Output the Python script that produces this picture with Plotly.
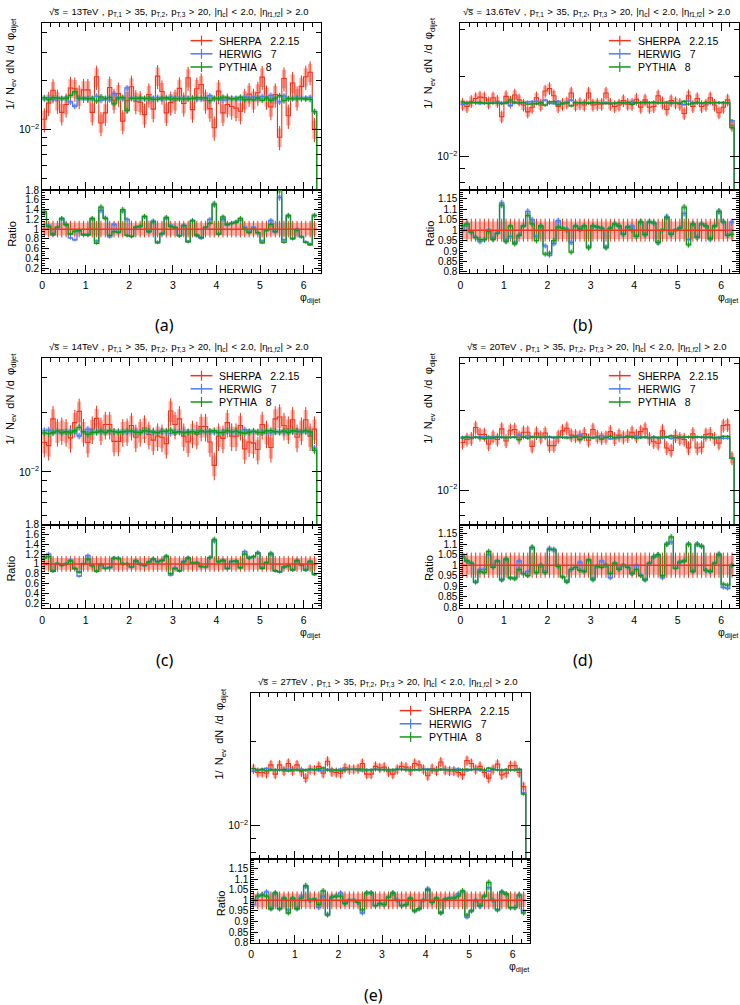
import plotly.graph_objects as go

W, H = 740, 1005
NBIN = 63
BW = 0.1
EDGES = [round(BW * i, 2) for i in range(NBIN + 1)]
CENTERS = [round(BW * (i + 0.5), 3) for i in range(NBIN)]
UNIT = 1e-2          # main-plot values below are given in units of 1e-2
DROP = 1e-4          # histogram falls to zero after the last bin

ENERGIES = ["13", "13.6", "14", "20", "27"]
LABELS = ["(a)", "(b)", "(c)", "(d)", "(e)"]
SERIES_NAMES = ["SHERPA\u00a0\u00a0\u00a02.2.15", "HERWIG\u00a0\u00a0\u00a07", "PYTHIA\u00a0\u00a0\u00a08"]

# ---------------- panel (a) 13 TeV ----------------
A_SHERPA = [1.16, 1.46, 1.75, 1.51, 1.28, 1.43, 1.81, 1.79, 1.61, 1.76,
            1.76, 1.28, 2.12, 1.10, 1.27, 1.82, 1.52, 1.67, 1.13, 1.51,
            1.84, 1.50, 1.48, 1.24, 1.65, 1.34, 2.14, 1.72, 1.27, 1.47,
            1.51, 1.80, 1.45, 2.09, 1.33, 1.79, 1.90, 1.51, 1.35, 1.03,
            1.73, 1.27, 1.43, 1.39, 1.36, 1.30, 1.53, 1.66, 1.53, 1.69,
            2.11, 1.60, 1.38, 1.65, 0.90, 2.07, 1.22, 1.94, 1.58, 1.85,
            2.12, 2.26, 1.01]
A_HERWIG_R = [1.33, 1.08, 0.88, 1.03, 1.21, 1.10, 0.82, 0.78, 0.97, 0.88,
              0.89, 1.21, 0.76, 1.38, 1.23, 0.84, 1.10, 0.93, 1.37, 1.20,
              0.85, 1.04, 1.05, 1.25, 0.94, 1.17, 0.74, 0.90, 1.22, 1.08,
              1.04, 0.87, 1.08, 0.75, 1.18, 0.86, 0.81, 1.03, 1.20, 1.50,
              0.90, 1.20, 1.08, 1.12, 1.15, 1.18, 1.04, 0.95, 1.04, 0.92,
              0.76, 0.97, 1.18, 0.94, 1.65, 0.78, 1.27, 0.81, 1.00, 0.85,
              0.74, 0.70, 1.28]
A_PYTHIA_R = [1.36, 1.05, 0.90, 1.04, 1.22, 1.09, 0.90, 0.96, 0.97, 0.89,
              0.88, 1.22, 0.71, 1.45, 1.22, 0.87, 0.95, 0.94, 1.40, 0.87,
              0.85, 1.04, 1.06, 1.26, 0.95, 1.15, 0.72, 0.91, 1.24, 1.05,
              1.03, 0.86, 1.07, 0.74, 1.17, 0.88, 0.83, 1.04, 1.12, 1.52,
              0.90, 1.25, 1.10, 1.12, 1.14, 1.22, 1.00, 0.93, 1.00, 0.93,
              0.72, 0.98, 1.10, 0.95, 1.80, 0.73, 1.28, 0.80, 0.98, 0.84,
              0.73, 0.68, 1.28]

# ---------------- panel (b) 13.6 TeV ----------------
B_SHERPA = [1.57, 1.54, 1.61, 1.65, 1.67, 1.66, 1.59, 1.66, 1.61, 1.41,
            1.68, 1.60, 1.70, 1.63, 1.56, 1.47, 1.53, 1.66, 1.56, 1.76,
            1.80, 1.69, 1.54, 1.57, 1.59, 1.73, 1.56, 1.58, 1.56, 1.73,
            1.56, 1.57, 1.57, 1.73, 1.57, 1.54, 1.56, 1.62, 1.57, 1.57,
            1.64, 1.53, 1.63, 1.53, 1.54, 1.69, 1.59, 1.50, 1.62, 1.59,
            1.57, 1.45, 1.69, 1.54, 1.65, 1.54, 1.56, 1.66, 1.56, 1.46,
            1.53, 1.63, 1.31]
B_HERWIG_R = [1.00, 1.03, 0.99, 0.965, 0.945, 0.955, 1.00, 0.96, 0.99, 1.13,
              0.95, 0.97, 0.94, 0.975, 1.02, 1.09, 1.05, 0.97, 1.02, 0.925,
              0.88, 0.935, 1.045, 1.01, 1.005, 0.94, 1.02, 1.005, 1.02, 0.92,
              1.02, 1.015, 1.01, 0.92, 1.01, 1.03, 1.02, 0.98, 1.015, 1.02,
              0.97, 1.04, 0.975, 1.04, 1.035, 0.94, 1.00, 1.065, 0.98, 1.00,
              1.01, 1.08, 0.955, 1.03, 0.965, 1.03, 1.02, 0.955, 1.02, 1.09,
              1.04, 0.975, 1.04]
B_PYTHIA_R = [1.02, 1.03, 0.99, 0.965, 0.955, 0.955, 0.995, 0.955, 0.985, 1.12,
              0.945, 1.02, 0.935, 0.975, 1.02, 1.07, 1.03, 0.95, 1.02, 0.885,
              0.89, 0.95, 1.015, 1.01, 1.00, 0.895, 1.02, 1.005, 1.02, 0.915,
              1.02, 1.015, 1.01, 0.915, 1.01, 1.03, 1.02, 0.98, 1.015, 1.00,
              0.97, 1.04, 0.98, 1.04, 1.035, 0.94, 1.00, 1.06, 0.98, 1.00,
              1.01, 1.11, 0.93, 1.03, 0.965, 1.03, 1.02, 0.96, 1.02, 1.09,
              1.04, 0.975, 0.98]

# ---------------- panel (c) 14 TeV ----------------
C_SHERPA = [1.41, 1.36, 1.86, 1.60, 1.63, 1.60, 1.49, 1.78, 2.03, 1.60,
            1.41, 1.65, 1.87, 1.63, 1.74, 1.74, 1.43, 1.43, 1.60, 1.61,
            1.72, 1.50, 1.60, 1.67, 1.55, 1.45, 1.52, 1.50, 1.39, 2.04,
            1.74, 1.86, 1.52, 1.42, 1.57, 1.55, 1.70, 1.70, 1.42, 1.08,
            1.52, 1.48, 1.78, 1.52, 1.52, 1.72, 1.31, 1.42, 1.40, 1.30,
            1.74, 1.57, 1.33, 1.86, 1.90, 1.72, 1.65, 1.84, 1.50, 1.63,
            1.84, 1.52, 1.65]
C_HERWIG_R = [1.15, 1.20, 0.86, 1.00, 0.98, 1.00, 1.08, 0.90, 0.75, 1.00,
              1.17, 0.97, 0.86, 0.98, 0.92, 0.92, 1.12, 1.12, 1.00, 0.99,
              0.93, 1.07, 1.00, 0.96, 1.03, 1.10, 1.05, 1.07, 1.15, 0.77,
              0.92, 0.86, 1.05, 1.13, 1.02, 1.03, 0.94, 0.94, 1.13, 1.47,
              1.05, 1.08, 0.90, 1.05, 1.05, 0.93, 1.25, 1.13, 1.14, 1.23,
              0.92, 1.02, 1.19, 0.86, 0.84, 0.93, 0.97, 0.87, 1.07, 0.98,
              0.87, 1.05, 0.80]
C_PYTHIA_R = [1.12, 1.15, 0.85, 1.01, 0.97, 1.00, 1.06, 0.91, 0.83, 1.00,
              1.10, 0.96, 0.85, 0.99, 0.91, 0.93, 1.12, 1.11, 1.00, 1.00,
              0.94, 1.06, 0.99, 0.97, 1.04, 1.10, 1.04, 1.07, 1.16, 0.80,
              0.91, 0.86, 1.04, 1.12, 1.02, 1.02, 0.95, 0.94, 1.13, 1.50,
              1.04, 1.07, 0.91, 1.05, 1.06, 0.92, 1.20, 1.12, 1.15, 1.22,
              0.91, 1.03, 1.22, 0.86, 0.84, 0.94, 0.96, 0.88, 1.07, 0.98,
              0.88, 1.05, 0.78]

# ---------------- panel (d) 20 TeV ----------------
D_SHERPA = [1.51, 1.55, 1.56, 1.72, 1.62, 1.62, 1.49, 1.59, 1.55, 1.70,
            1.53, 1.68, 1.69, 1.58, 1.65, 1.65, 1.46, 1.64, 1.58, 1.64,
            1.47, 1.47, 1.59, 1.67, 1.71, 1.61, 1.60, 1.59, 1.63, 1.54,
            1.69, 1.59, 1.57, 1.58, 1.66, 1.56, 1.61, 1.58, 1.60, 1.65,
            1.60, 1.66, 1.70, 1.56, 1.52, 1.50, 1.67, 1.44, 1.41, 1.60,
            1.56, 1.55, 1.44, 1.63, 1.44, 1.45, 1.62, 1.63, 1.56, 1.50,
            1.75, 1.76, 1.32]
D_HERWIG_R = [1.05, 1.02, 1.01, 0.92, 0.98, 0.98, 1.05, 1.00, 1.02, 0.93,
              1.03, 0.94, 0.94, 1.02, 0.96, 0.97, 1.085, 0.965, 1.00, 0.965,
              1.08, 1.07, 0.995, 0.945, 0.925, 0.98, 0.99, 1.015, 0.97, 1.025,
              0.935, 0.995, 1.02, 1.00, 0.94, 1.01, 0.98, 1.00, 0.99, 0.96,
              1.00, 0.955, 0.93, 1.01, 1.04, 1.05, 0.94, 1.10, 1.11, 0.985,
              1.015, 1.02, 1.10, 0.97, 1.10, 1.09, 0.975, 0.97, 1.01, 1.055,
              0.895, 0.89, 1.00]
D_PYTHIA_R = [1.04, 1.02, 1.01, 0.92, 0.97, 0.965, 1.065, 0.99, 1.02, 0.93,
              1.03, 0.94, 0.935, 0.98, 0.96, 0.95, 1.085, 0.965, 1.00, 0.965,
              1.075, 1.075, 0.995, 0.945, 0.92, 0.98, 0.99, 0.975, 0.97, 1.025,
              0.93, 0.995, 0.99, 1.00, 0.96, 1.01, 0.98, 1.00, 0.99, 0.96,
              0.98, 0.95, 0.93, 1.01, 1.04, 1.05, 0.95, 1.10, 1.135, 0.985,
              1.015, 1.02, 1.10, 0.97, 1.10, 1.09, 0.975, 0.97, 1.01, 1.05,
              0.91, 0.905, 1.00]

# ---------------- panel (e) 27 TeV ----------------
E_SHERPA = [1.60, 1.55, 1.55, 1.54, 1.65, 1.53, 1.65, 1.57, 1.67, 1.57,
            1.65, 1.56, 1.48, 1.59, 1.58, 1.63, 1.54, 1.70, 1.56, 1.55,
            1.54, 1.61, 1.59, 1.59, 1.60, 1.67, 1.53, 1.53, 1.63, 1.61,
            1.62, 1.56, 1.53, 1.59, 1.63, 1.62, 1.57, 1.67, 1.65, 1.59,
            1.51, 1.60, 1.57, 1.69, 1.58, 1.57, 1.57, 1.55, 1.52, 1.71,
            1.67, 1.59, 1.63, 1.55, 1.48, 1.59, 1.66, 1.52, 1.54, 1.64,
            1.64, 1.55, 1.38]
E_HERWIG_R = [0.98, 1.02, 1.025, 1.04, 0.96, 1.035, 0.96, 1.01, 0.955, 1.01,
              0.96, 1.02, 1.065, 1.00, 1.005, 0.965, 1.02, 0.935, 1.015, 1.02,
              1.035, 0.985, 1.00, 1.00, 0.99, 0.94, 1.035, 1.035, 0.975, 0.985,
              0.98, 1.015, 1.035, 1.00, 0.975, 0.98, 1.01, 0.95, 0.96, 1.00,
              1.055, 0.99, 1.01, 0.94, 1.005, 1.01, 1.01, 1.03, 1.04, 0.92,
              0.95, 1.00, 0.97, 1.02, 1.06, 1.00, 0.955, 1.04, 1.03, 0.965,
              0.965, 1.025, 0.95]
E_PYTHIA_R = [1.00, 1.02, 1.025, 1.02, 0.96, 1.035, 0.96, 1.01, 0.94, 1.01,
              0.96, 1.01, 1.07, 1.00, 1.005, 0.98, 1.045, 0.93, 1.015, 1.02,
              1.02, 0.985, 1.00, 1.00, 0.99, 0.955, 1.035, 1.035, 0.975, 0.985,
              0.98, 1.015, 1.035, 1.00, 0.975, 0.98, 1.01, 0.95, 0.96, 1.00,
              1.05, 0.99, 1.01, 0.94, 1.005, 1.01, 1.01, 1.02, 1.045, 0.93,
              0.95, 1.00, 0.975, 1.02, 1.085, 1.00, 0.955, 1.04, 1.03, 0.965,
              0.965, 1.025, 0.94]

SHERPA = [A_SHERPA, B_SHERPA, C_SHERPA, D_SHERPA, E_SHERPA]
HERWIG_R = [A_HERWIG_R, B_HERWIG_R, C_HERWIG_R, D_HERWIG_R, E_HERWIG_R]
PYTHIA_R = [A_PYTHIA_R, B_PYTHIA_R, C_PYTHIA_R, D_PYTHIA_R, E_PYTHIA_R]
# relative uncertainties: SHERPA band, SHERPA bar, HERWIG/PYTHIA
SHERPA_BAND = [0.13, 0.042, 0.12, 0.045, 0.032]
SHERPA_BAR = [0.17, 0.055, 0.16, 0.06, 0.042]
MC_ERR = [0.03, 0.01, 0.028, 0.009, 0.009]

# ---------------- geometry / style (pixels) ----------------
GEOM = [  # left, right, top, mid, bottom
    (39.3, 319.3, 18.3, 187.0, 270.7),
    (459.3, 738.5, 18.3, 187.3, 270.7),
    (39.3, 319.3, 356.7, 525.0, 609.0),
    (459.3, 738.5, 356.7, 525.0, 609.0),
    (249.3, 529.3, 695.0, 862.7, 947.0),
]
MAIN_YRANGE = [(-2.372, -1.343), (-2.127, -1.500), (-2.268, -1.4225),
               (-2.131, -1.503), (-2.119, -1.526)]
RATIO_YRANGE = [(0.1, 1.8), (0.795, 1.19), (0.1, 1.8), (0.797, 1.192), (0.8, 1.195)]
WIDE_TICKS = ([0.2, 0.4, 0.6, 0.8, 1.0, 1.2, 1.4, 1.6, 1.8],
              ["0.2", "0.4", "0.6", "0.8", "1", "1.2", "1.4", "1.6", "1.8"], 0.05)
NARROW_TICKS = ([0.8, 0.85, 0.9, 0.95, 1.0, 1.05, 1.1, 1.15],
                ["0.8", "0.85", "0.9", "0.95", "1", "1.05", "1.1", "1.15"], 0.01)
RATIO_TICKS = [WIDE_TICKS, NARROW_TICKS, WIDE_TICKS, NARROW_TICKS, NARROW_TICKS]

RED, RED_F = "#f2341f", "rgba(246,120,100,0.55)"
BLUE, BLUE_F = "#4d7cf6", "rgba(120,155,245,0.55)"
GREEN, GREEN_F = "#14961e", "rgba(80,180,80,0.5)"
FONT = "Liberation Sans"
SP = "\u00a0\u2009"
TSP = "\u00a0\u200a"


def xp(px):
    return px / W


def yp(py):
    return 1 - py / H


def boxes(vals, half, xa, ya, fill):
    xs, ys = [], []
    for i, v in enumerate(vals):
        x0, x1 = EDGES[i], EDGES[i + 1]
        lo, hi = v - half[i], v + half[i]
        xs += [x0, x1, x1, x0, x0, None]
        ys += [lo, lo, hi, hi, lo, None]
    return go.Scatter(x=xs, y=ys, mode="lines", fill="toself", fillcolor=fill,
                      line=dict(width=0), hoverinfo="skip", showlegend=False,
                      xaxis=xa, yaxis=ya)


def vbars(vals, half, xa, ya, color):
    xs, ys = [], []
    for i, v in enumerate(vals):
        xs += [CENTERS[i], CENTERS[i], None]
        ys += [v - half[i], v + half[i], None]
    return go.Scatter(x=xs, y=ys, mode="lines", line=dict(color=color, width=1),
                      hoverinfo="skip", showlegend=False, xaxis=xa, yaxis=ya)


def step(vals, xa, ya, color, drop=None, width=1.3):
    xs = EDGES[:-1] + [EDGES[-1]]
    ys = list(vals) + [vals[-1]]
    if drop is not None:
        xs = xs + [EDGES[-1]]
        ys = ys + [drop]
    return go.Scatter(x=xs, y=ys, mode="lines", line=dict(color=color, width=width, shape="hv"),
                      hoverinfo="skip", showlegend=False, xaxis=xa, yaxis=ya)


fig = go.Figure()
layout = dict(width=W, height=H, autosize=False, margin=dict(l=0, r=0, t=0, b=0),
              paper_bgcolor="white", plot_bgcolor="white", showlegend=False,
              font=dict(family=FONT, color="black", size=10))
annotations, shapes = [], []

axis_common = dict(showline=True, linecolor="black", linewidth=1, mirror="allticks",
                   ticks="inside", tickcolor="black", showgrid=False, zeroline=False,
                   tickfont=dict(family=FONT, size=10, color="black"))

for k in range(5):
    L, R, T, M, B = GEOM[k]
    nm, nr = 2 * k + 1, 2 * k + 2
    xm, ym = ("x" if nm == 1 else f"x{nm}"), ("y" if nm == 1 else f"y{nm}")
    xr, yr = f"x{nr}", f"y{nr}"

    S = [v * UNIT for v in SHERPA[k]]
    HW = [r * v for r, v in zip(HERWIG_R[k], S)]
    PY = [r * v for r, v in zip(PYTHIA_R[k], S)]

    # ---- main plot ----
    for vals, col, fill, rb, rl, lw in [(S, RED, RED_F, SHERPA_BAND[k], SHERPA_BAR[k], 1.1),
                                        (HW, BLUE, BLUE_F, MC_ERR[k], MC_ERR[k] * 1.4, 1.3),
                                        (PY, GREEN, GREEN_F, MC_ERR[k], MC_ERR[k] * 1.4, 1.3)]:
        fig.add_trace(boxes(vals, [v * rb for v in vals], xm, ym, fill))
        fig.add_trace(step(vals, xm, ym, col, drop=DROP, width=lw))
        fig.add_trace(vbars(vals, [v * rl for v in vals], xm, ym, col))

    # ---- ratio plot ----
    ones = [1.0] * NBIN
    fig.add_trace(boxes(ones, [SHERPA_BAND[k]] * NBIN, xr, yr, RED_F))
    fig.add_trace(vbars(ones, [SHERPA_BAR[k]] * NBIN, xr, yr, RED))
    for rat, col, fill in [(HERWIG_R[k], BLUE, BLUE_F), (PYTHIA_R[k], GREEN, GREEN_F)]:
        fig.add_trace(boxes(rat, [r * MC_ERR[k] for r in rat], xr, yr, fill))
        fig.add_trace(step(rat, xr, yr, col))
        fig.add_trace(vbars(rat, [r * MC_ERR[k] * 1.4 for r in rat], xr, yr, col))
    fig.add_trace(step(ones, xr, yr, RED, width=1.5))

    xdom = [xp(L), xp(R)]
    layout["xaxis" if nm == 1 else f"xaxis{nm}"] = dict(
        axis_common, domain=xdom, anchor=ym, range=[0, 6.4], tickmode="linear", tick0=0, dtick=1,
        ticklen=8, showticklabels=False,
        minor=dict(ticks="inside", dtick=0.2, tick0=0, ticklen=4, tickcolor="black"))
    layout["yaxis" if nm == 1 else f"yaxis{nm}"] = dict(
        axis_common, domain=[yp(M), yp(T)], anchor=xm, type="log", range=list(MAIN_YRANGE[k]),
        tickmode="array", tickvals=[0.01], ticktext=["10<sup>\u22122</sup>"], ticklen=9,
        tickfont=dict(family=FONT, size=10.5, color="black"),
        minor=dict(ticks="inside", tickmode="array", ticklen=5, tickcolor="black",
                   tickvals=[0.004, 0.005, 0.006, 0.007, 0.008, 0.009, 0.02, 0.03, 0.04]))
    layout[f"xaxis{nr}"] = dict(
        axis_common, domain=xdom, anchor=yr, range=[0, 6.4], tickmode="linear", tick0=0, dtick=1,
        ticklen=8, ticklabelstandoff=2, tickfont=dict(family=FONT, size=10.5, color="black"),
        minor=dict(ticks="inside", dtick=0.2, tick0=0, ticklen=4, tickcolor="black"))
    tv, tt, mdt = RATIO_TICKS[k]
    layout[f"yaxis{nr}"] = dict(
        axis_common, domain=[yp(B), yp(M)], anchor=xr, range=list(RATIO_YRANGE[k]),
        tickmode="array", tickvals=tv, ticktext=tt, ticklen=7,
        minor=dict(ticks="inside", dtick=mdt, tick0=0, ticklen=3, tickcolor="black"))

    # ---- texts ----
    annotations.append(dict(
        x=xp(L + 137), y=yp(T - 11), xref="paper", yref="paper", showarrow=False,
        xanchor="center", yanchor="middle", font=dict(size=9.5, family=FONT),
        text=(f"\u221as\u0305{TSP}={TSP}{ENERGIES[k]}TeV{TSP},{TSP}p<sub>T,1</sub>{TSP}>{TSP}35,{TSP}"
              f"p<sub>T,2</sub>,{TSP}p<sub>T,3</sub>{TSP}>{TSP}20,{TSP}|\u03b7<sub>c</sub>|{TSP}<{TSP}2.0,"
              f"{TSP}|\u03b7<sub>f1,f2</sub>|{TSP}>{TSP}2.0")))
    annotations.append(dict(
        x=xp(L - 31), y=yp(T - 8), xref="paper", yref="paper", showarrow=False, textangle=-90,
        xanchor="center", yanchor="top", font=dict(size=11, family=FONT),
        text=f"1/{SP}N<sub>ev</sub>{SP}dN{SP}/d{SP}\u03c6<sub>dijet</sub>"))
    annotations.append(dict(
        x=xp(L - 31), y=yp((M + B) / 2 + 2), xref="paper", yref="paper", showarrow=False,
        textangle=-90, xanchor="center", yanchor="middle", font=dict(size=11, family=FONT),
        text="Ratio"))
    annotations.append(dict(
        x=xp(R + 1), y=yp(B + 25), xref="paper", yref="paper", showarrow=False,
        xanchor="right", yanchor="middle", font=dict(size=10.5, family=FONT),
        text="\u03c6<sub>dijet</sub>"))
    annotations.append(dict(
        x=xp(L + 123), y=yp(B + 53), xref="paper", yref="paper", showarrow=False,
        xanchor="center", yanchor="middle", font=dict(size=16, family="Noto Sans"),
        text=LABELS[k]))
    # legend
    for j, (name, col) in enumerate(zip(SERIES_NAMES, [RED, BLUE, GREEN])):
        yrow = T + 17.7 + 13.3 * j
        shapes.append(dict(type="line", xref="paper", yref="paper", x0=xp(L + 149), x1=xp(L + 171),
                           y0=yp(yrow), y1=yp(yrow), line=dict(color=col, width=1.5)))
        shapes.append(dict(type="line", xref="paper", yref="paper", x0=xp(L + 160), x1=xp(L + 160),
                           y0=yp(yrow - 5), y1=yp(yrow + 5), line=dict(color=col, width=1.2)))
        annotations.append(dict(
            x=xp(L + 176), y=yp(yrow), xref="paper", yref="paper", showarrow=False,
            xanchor="left", yanchor="middle", font=dict(size=10.5, family=FONT), text=name))

layout["annotations"] = annotations
layout["shapes"] = shapes
fig.update_layout(**layout)
fig.write_html("out.html")
